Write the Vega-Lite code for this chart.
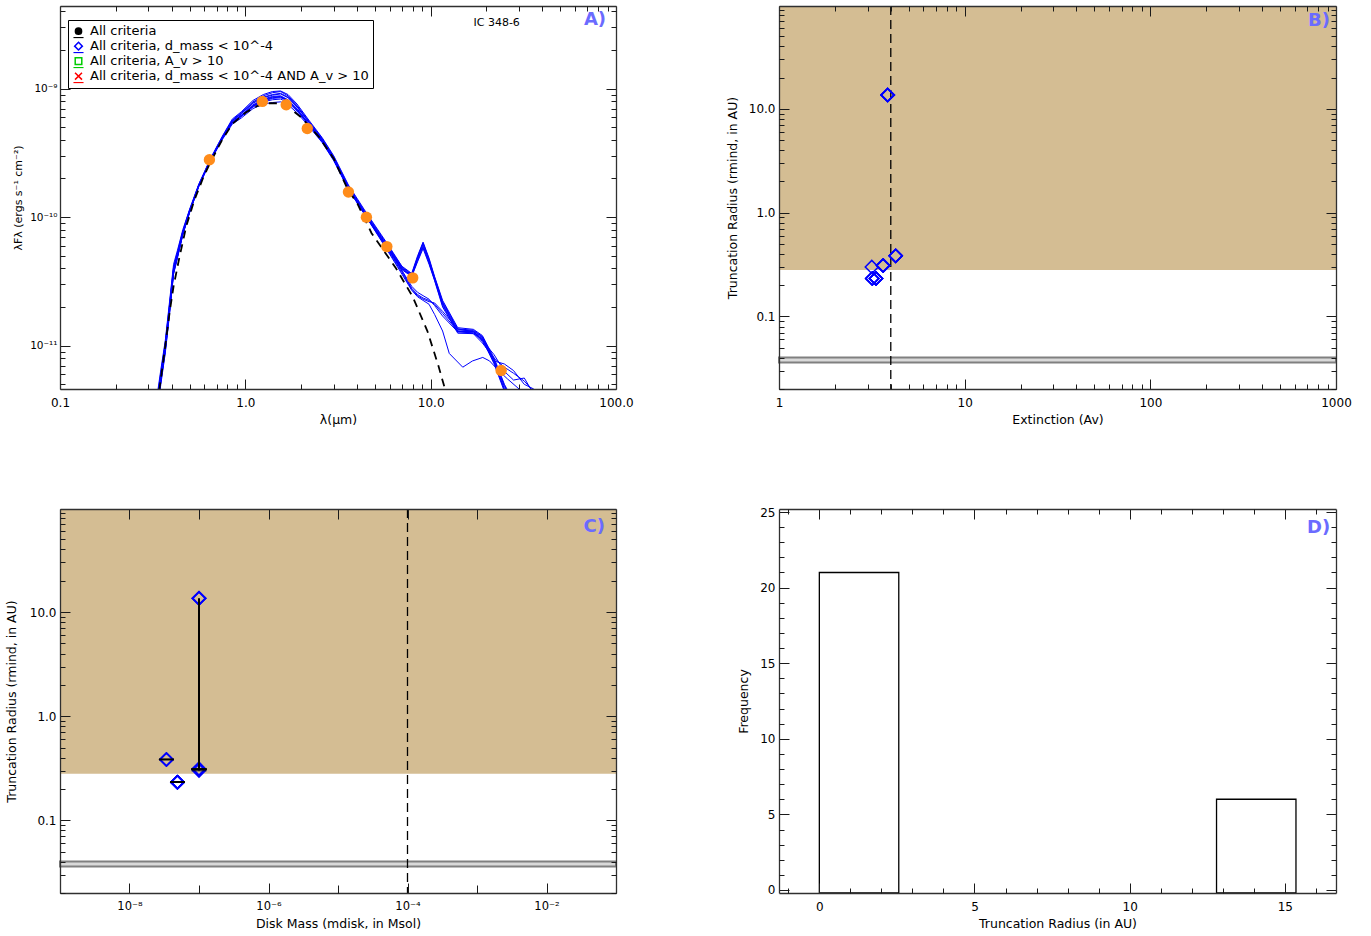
{
"$schema": "https://vega.github.io/schema/vega-lite/v6.json",
"background": "#ffffff",
"padding": {"left": 5, "top": 5, "right": 5, "bottom": 5},
"bounds": "flush",
"columns": 2,
"spacing": {"row": 120, "column": 163},
"config": {
  "view": {"stroke": null},
  "font": "DejaVu Sans",
  "axis": {"labelFont": "DejaVu Sans", "labelFontSize": 12, "labelColor": "#000000", "titleFont": "DejaVu Sans", "titleFontSize": 12.5, "titleFontWeight": "normal", "titleColor": "#000000", "grid": false, "domain": false, "tickColor": "#1a1a1a", "tickWidth": 1, "domainColor": "#303030", "domainWidth": 1.3, "labelFlush": false, "labelOverlap": false},
  "legend": {"labelFont": "DejaVu Sans", "labelFontSize": 13, "labelColor": "#000000", "fillColor": "#ffffff", "strokeColor": "#000000", "padding": 4, "rowPadding": 0, "clipHeight": 14.3, "symbolSize": 60, "symbolStrokeWidth": 1.5, "labelOffset": 5, "labelLimit": 500, "cornerRadius": 0, "symbolOpacity": 1}
},
"datasets": {
  "sed": [
{"m":"a1","w":0.33,"f":3.0e-12},{"m":"a1","w":0.35,"f":5.5e-12},{"m":"a1","w":0.37,"f":9.5e-12},{"m":"a1","w":0.39,"f":1.9e-11},{"m":"a1","w":0.41,"f":3.8e-11},{"m":"a1","w":0.43,"f":5.0e-11},{"m":"a1","w":0.46,"f":7.5e-11},{"m":"a1","w":0.50,"f":1.1e-10},{"m":"a1","w":0.56,"f":1.75e-10},{"m":"a1","w":0.65,"f":2.8e-10},{"m":"a1","w":0.75,"f":4.1e-10},{"m":"a1","w":0.85,"f":5.5e-10},{"m":"a1","w":0.95,"f":6.2e-10},{"m":"a1","w":1.1,"f":7.4e-10},{"m":"a1","w":1.25,"f":8.2e-10},{"m":"a1","w":1.4,"f":8.6e-10},{"m":"a1","w":1.55,"f":8.7e-10},{"m":"a1","w":1.7,"f":8.1e-10},{"m":"a1","w":1.9,"f":6.9e-10},{"m":"a1","w":2.2,"f":5.3e-10},{"m":"a1","w":2.6,"f":3.9e-10},{"m":"a1","w":3.0,"f":2.8e-10},{"m":"a1","w":3.6,"f":1.68e-10},{"m":"a1","w":4.5,"f":1.02e-10},{"m":"a1","w":5.8,"f":6.0e-11},{"m":"a1","w":7.0,"f":4.0e-11},{"m":"a1","w":7.9,"f":3.5e-11},{"m":"a1","w":8.5,"f":4.7e-11},{"m":"a1","w":9.1,"f":6.0e-11},{"m":"a1","w":9.8,"f":4.5e-11},{"m":"a1","w":10.5,"f":3.3e-11},{"m":"a1","w":11.6,"f":2.1e-11},{"m":"a1","w":14,"f":1.3e-11},{"m":"a1","w":17,"f":1.28e-11},{"m":"a1","w":19,"f":1.15e-11},{"m":"a1","w":22,"f":7.5e-12},{"m":"a1","w":25,"f":4.6e-12},{"m":"a1","w":28,"f":3.4e-12},
{"m":"a2","w":0.33,"f":3.4e-12},{"m":"a2","w":0.35,"f":6.2e-12},{"m":"a2","w":0.37,"f":1.06e-11},{"m":"a2","w":0.39,"f":2.1e-11},{"m":"a2","w":0.41,"f":4.1e-11},{"m":"a2","w":0.43,"f":5.3e-11},{"m":"a2","w":0.46,"f":7.8e-11},{"m":"a2","w":0.50,"f":1.13e-10},{"m":"a2","w":0.56,"f":1.78e-10},{"m":"a2","w":0.65,"f":2.85e-10},{"m":"a2","w":0.75,"f":4.2e-10},{"m":"a2","w":0.85,"f":5.7e-10},{"m":"a2","w":0.95,"f":6.5e-10},{"m":"a2","w":1.1,"f":7.9e-10},{"m":"a2","w":1.25,"f":8.8e-10},{"m":"a2","w":1.4,"f":9.3e-10},{"m":"a2","w":1.55,"f":9.5e-10},{"m":"a2","w":1.7,"f":8.8e-10},{"m":"a2","w":1.9,"f":7.4e-10},{"m":"a2","w":2.2,"f":5.6e-10},{"m":"a2","w":2.6,"f":4.1e-10},{"m":"a2","w":3.0,"f":2.95e-10},{"m":"a2","w":3.6,"f":1.75e-10},{"m":"a2","w":4.5,"f":1.06e-10},{"m":"a2","w":5.8,"f":6.2e-11},{"m":"a2","w":7.0,"f":4.1e-11},{"m":"a2","w":7.9,"f":3.6e-11},{"m":"a2","w":8.5,"f":4.9e-11},{"m":"a2","w":9.1,"f":6.3e-11},{"m":"a2","w":9.8,"f":4.7e-11},{"m":"a2","w":10.5,"f":3.4e-11},{"m":"a2","w":11.6,"f":2.2e-11},{"m":"a2","w":14,"f":1.35e-11},{"m":"a2","w":17,"f":1.32e-11},{"m":"a2","w":19,"f":1.18e-11},{"m":"a2","w":22,"f":7.8e-12},{"m":"a2","w":25,"f":4.9e-12},{"m":"a2","w":28,"f":3.6e-12},
{"m":"a3","w":0.33,"f":2.7e-12},{"m":"a3","w":0.35,"f":5.0e-12},{"m":"a3","w":0.37,"f":8.8e-12},{"m":"a3","w":0.39,"f":1.75e-11},{"m":"a3","w":0.41,"f":3.6e-11},{"m":"a3","w":0.43,"f":4.8e-11},{"m":"a3","w":0.46,"f":7.3e-11},{"m":"a3","w":0.50,"f":1.08e-10},{"m":"a3","w":0.56,"f":1.72e-10},{"m":"a3","w":0.65,"f":2.75e-10},{"m":"a3","w":0.75,"f":4.0e-10},{"m":"a3","w":0.85,"f":5.3e-10},{"m":"a3","w":0.95,"f":5.9e-10},{"m":"a3","w":1.1,"f":7.0e-10},{"m":"a3","w":1.25,"f":7.6e-10},{"m":"a3","w":1.4,"f":7.8e-10},{"m":"a3","w":1.55,"f":7.9e-10},{"m":"a3","w":1.7,"f":7.5e-10},{"m":"a3","w":1.9,"f":6.5e-10},{"m":"a3","w":2.2,"f":5.1e-10},{"m":"a3","w":2.6,"f":3.8e-10},{"m":"a3","w":3.0,"f":2.75e-10},{"m":"a3","w":3.6,"f":1.64e-10},{"m":"a3","w":4.5,"f":1.0e-10},{"m":"a3","w":5.8,"f":5.9e-11},{"m":"a3","w":7.0,"f":3.9e-11},{"m":"a3","w":7.9,"f":3.45e-11},{"m":"a3","w":8.5,"f":4.5e-11},{"m":"a3","w":9.1,"f":5.7e-11},{"m":"a3","w":9.8,"f":4.3e-11},{"m":"a3","w":10.5,"f":3.2e-11},{"m":"a3","w":11.6,"f":2.0e-11},{"m":"a3","w":14,"f":1.25e-11},{"m":"a3","w":17,"f":1.24e-11},{"m":"a3","w":19,"f":1.12e-11},{"m":"a3","w":22,"f":7.2e-12},{"m":"a3","w":25,"f":4.4e-12},{"m":"a3","w":28,"f":3.2e-12},
{"m":"a4","w":0.33,"f":3.2e-12},{"m":"a4","w":0.35,"f":5.9e-12},{"m":"a4","w":0.37,"f":1.0e-11},{"m":"a4","w":0.39,"f":2.0e-11},{"m":"a4","w":0.41,"f":3.95e-11},{"m":"a4","w":0.43,"f":5.15e-11},{"m":"a4","w":0.46,"f":7.7e-11},{"m":"a4","w":0.50,"f":1.12e-10},{"m":"a4","w":0.56,"f":1.77e-10},{"m":"a4","w":0.65,"f":2.82e-10},{"m":"a4","w":0.75,"f":4.15e-10},{"m":"a4","w":0.85,"f":5.6e-10},{"m":"a4","w":0.95,"f":6.35e-10},{"m":"a4","w":1.1,"f":7.7e-10},{"m":"a4","w":1.25,"f":8.5e-10},{"m":"a4","w":1.4,"f":8.9e-10},{"m":"a4","w":1.55,"f":9.1e-10},{"m":"a4","w":1.7,"f":8.5e-10},{"m":"a4","w":1.9,"f":7.2e-10},{"m":"a4","w":2.2,"f":5.5e-10},{"m":"a4","w":2.6,"f":4.0e-10},{"m":"a4","w":3.0,"f":2.9e-10},{"m":"a4","w":3.6,"f":1.72e-10},{"m":"a4","w":4.5,"f":1.04e-10},{"m":"a4","w":5.8,"f":6.1e-11},{"m":"a4","w":7.0,"f":4.05e-11},{"m":"a4","w":7.9,"f":3.55e-11},{"m":"a4","w":8.5,"f":4.8e-11},{"m":"a4","w":9.1,"f":6.2e-11},{"m":"a4","w":9.8,"f":4.6e-11},{"m":"a4","w":10.5,"f":3.35e-11},{"m":"a4","w":11.6,"f":2.15e-11},{"m":"a4","w":14,"f":1.33e-11},{"m":"a4","w":17,"f":1.3e-11},{"m":"a4","w":19,"f":1.17e-11},{"m":"a4","w":22,"f":7.7e-12},{"m":"a4","w":25,"f":4.8e-12},{"m":"a4","w":28,"f":3.5e-12},
{"m":"a5","w":0.33,"f":2.9e-12},{"m":"a5","w":0.35,"f":5.3e-12},{"m":"a5","w":0.37,"f":9.2e-12},{"m":"a5","w":0.39,"f":1.85e-11},{"m":"a5","w":0.41,"f":3.7e-11},{"m":"a5","w":0.43,"f":4.9e-11},{"m":"a5","w":0.46,"f":7.4e-11},{"m":"a5","w":0.50,"f":1.09e-10},{"m":"a5","w":0.56,"f":1.73e-10},{"m":"a5","w":0.65,"f":2.78e-10},{"m":"a5","w":0.75,"f":4.05e-10},{"m":"a5","w":0.85,"f":5.4e-10},{"m":"a5","w":0.95,"f":6.05e-10},{"m":"a5","w":1.1,"f":7.2e-10},{"m":"a5","w":1.25,"f":7.9e-10},{"m":"a5","w":1.4,"f":8.2e-10},{"m":"a5","w":1.55,"f":8.3e-10},{"m":"a5","w":1.7,"f":7.8e-10},{"m":"a5","w":1.9,"f":6.7e-10},{"m":"a5","w":2.2,"f":5.2e-10},{"m":"a5","w":2.6,"f":3.85e-10},{"m":"a5","w":3.0,"f":2.78e-10},{"m":"a5","w":3.6,"f":1.66e-10},{"m":"a5","w":4.5,"f":1.01e-10},{"m":"a5","w":5.8,"f":5.95e-11},{"m":"a5","w":7.0,"f":3.95e-11},{"m":"a5","w":7.9,"f":3.48e-11},{"m":"a5","w":8.5,"f":4.6e-11},{"m":"a5","w":9.1,"f":5.85e-11},{"m":"a5","w":9.8,"f":4.4e-11},{"m":"a5","w":10.5,"f":3.25e-11},{"m":"a5","w":11.6,"f":2.05e-11},{"m":"a5","w":14,"f":1.28e-11},{"m":"a5","w":17,"f":1.26e-11},{"m":"a5","w":19,"f":1.13e-11},{"m":"a5","w":22,"f":7.4e-12},{"m":"a5","w":25,"f":4.5e-12},{"m":"a5","w":28,"f":3.3e-12},
{"m":"a6","w":0.33,"f":3.6e-12},{"m":"a6","w":0.35,"f":6.5e-12},{"m":"a6","w":0.37,"f":1.1e-11},{"m":"a6","w":0.39,"f":2.2e-11},{"m":"a6","w":0.41,"f":4.3e-11},{"m":"a6","w":0.43,"f":5.5e-11},{"m":"a6","w":0.46,"f":8.0e-11},{"m":"a6","w":0.50,"f":1.15e-10},{"m":"a6","w":0.56,"f":1.8e-10},{"m":"a6","w":0.65,"f":2.88e-10},{"m":"a6","w":0.75,"f":4.25e-10},{"m":"a6","w":0.85,"f":5.8e-10},{"m":"a6","w":0.95,"f":6.6e-10},{"m":"a6","w":1.1,"f":8.1e-10},{"m":"a6","w":1.25,"f":9.0e-10},{"m":"a6","w":1.4,"f":9.5e-10},{"m":"a6","w":1.55,"f":9.6e-10},{"m":"a6","w":1.7,"f":9.0e-10},{"m":"a6","w":1.9,"f":7.6e-10},{"m":"a6","w":2.2,"f":5.7e-10},{"m":"a6","w":2.6,"f":4.15e-10},{"m":"a6","w":3.0,"f":3.0e-10},{"m":"a6","w":3.6,"f":1.78e-10},{"m":"a6","w":4.5,"f":1.08e-10},{"m":"a6","w":5.8,"f":6.3e-11},{"m":"a6","w":7.0,"f":4.15e-11},{"m":"a6","w":7.9,"f":3.65e-11},{"m":"a6","w":8.5,"f":5.0e-11},{"m":"a6","w":9.1,"f":6.4e-11},{"m":"a6","w":9.8,"f":4.8e-11},{"m":"a6","w":10.5,"f":3.45e-11},{"m":"a6","w":11.6,"f":2.25e-11},{"m":"a6","w":14,"f":1.38e-11},{"m":"a6","w":17,"f":1.34e-11},{"m":"a6","w":19,"f":1.2e-11},{"m":"a6","w":22,"f":8.0e-12},{"m":"a6","w":25,"f":5.0e-12},{"m":"a6","w":28,"f":3.7e-12},
{"m":"b1","w":0.33,"f":3.1e-12},{"m":"b1","w":0.35,"f":5.6e-12},{"m":"b1","w":0.37,"f":9.7e-12},{"m":"b1","w":0.39,"f":1.95e-11},{"m":"b1","w":0.41,"f":3.85e-11},{"m":"b1","w":0.43,"f":5.05e-11},{"m":"b1","w":0.46,"f":7.55e-11},{"m":"b1","w":0.50,"f":1.1e-10},{"m":"b1","w":0.56,"f":1.75e-10},{"m":"b1","w":0.65,"f":2.8e-10},{"m":"b1","w":0.75,"f":4.1e-10},{"m":"b1","w":0.85,"f":5.5e-10},{"m":"b1","w":0.95,"f":6.2e-10},{"m":"b1","w":1.1,"f":7.5e-10},{"m":"b1","w":1.25,"f":8.3e-10},{"m":"b1","w":1.4,"f":8.7e-10},{"m":"b1","w":1.55,"f":8.8e-10},{"m":"b1","w":1.7,"f":8.2e-10},{"m":"b1","w":1.9,"f":7.0e-10},{"m":"b1","w":2.2,"f":5.35e-10},{"m":"b1","w":2.6,"f":3.95e-10},{"m":"b1","w":3.0,"f":2.82e-10},{"m":"b1","w":3.6,"f":1.68e-10},{"m":"b1","w":4.5,"f":1.01e-10},{"m":"b1","w":5.8,"f":5.8e-11},{"m":"b1","w":7.0,"f":3.8e-11},{"m":"b1","w":7.9,"f":2.8e-11},{"m":"b1","w":8.5,"f":2.5e-11},{"m":"b1","w":9.1,"f":2.35e-11},{"m":"b1","w":9.8,"f":2.25e-11},{"m":"b1","w":10.5,"f":2.1e-11},{"m":"b1","w":11.6,"f":1.78e-11},{"m":"b1","w":14,"f":1.3e-11},{"m":"b1","w":17,"f":1.24e-11},{"m":"b1","w":19,"f":1.05e-11},{"m":"b1","w":22,"f":8.0e-12},{"m":"b1","w":25,"f":6.8e-12},{"m":"b1","w":28,"f":6.1e-12},{"m":"b1","w":32,"f":5.3e-12},{"m":"b1","w":36,"f":4.4e-12},
{"m":"b2","w":0.33,"f":2.8e-12},{"m":"b2","w":0.35,"f":5.2e-12},{"m":"b2","w":0.37,"f":9.0e-12},{"m":"b2","w":0.39,"f":1.8e-11},{"m":"b2","w":0.41,"f":3.65e-11},{"m":"b2","w":0.43,"f":4.85e-11},{"m":"b2","w":0.46,"f":7.35e-11},{"m":"b2","w":0.50,"f":1.09e-10},{"m":"b2","w":0.56,"f":1.74e-10},{"m":"b2","w":0.65,"f":2.79e-10},{"m":"b2","w":0.75,"f":4.08e-10},{"m":"b2","w":0.85,"f":5.45e-10},{"m":"b2","w":0.95,"f":6.1e-10},{"m":"b2","w":1.1,"f":7.3e-10},{"m":"b2","w":1.25,"f":8.0e-10},{"m":"b2","w":1.4,"f":8.4e-10},{"m":"b2","w":1.55,"f":8.5e-10},{"m":"b2","w":1.7,"f":8.0e-10},{"m":"b2","w":1.9,"f":6.8e-10},{"m":"b2","w":2.2,"f":5.25e-10},{"m":"b2","w":2.6,"f":3.9e-10},{"m":"b2","w":3.0,"f":2.8e-10},{"m":"b2","w":3.6,"f":1.67e-10},{"m":"b2","w":4.5,"f":1.0e-10},{"m":"b2","w":5.8,"f":5.7e-11},{"m":"b2","w":7.0,"f":3.7e-11},{"m":"b2","w":7.9,"f":2.75e-11},{"m":"b2","w":8.5,"f":2.45e-11},{"m":"b2","w":9.1,"f":2.3e-11},{"m":"b2","w":9.8,"f":2.2e-11},{"m":"b2","w":10.5,"f":2.15e-11},{"m":"b2","w":11.6,"f":1.85e-11},{"m":"b2","w":14,"f":1.35e-11},{"m":"b2","w":17,"f":1.28e-11},{"m":"b2","w":19,"f":1.1e-11},{"m":"b2","w":22,"f":8.5e-12},{"m":"b2","w":25,"f":6.3e-12},{"m":"b2","w":28,"f":5.4e-12},{"m":"b2","w":32,"f":5.6e-12},{"m":"b2","w":36,"f":4.2e-12},
{"m":"b3","w":0.33,"f":3.3e-12},{"m":"b3","w":0.35,"f":6.0e-12},{"m":"b3","w":0.37,"f":1.03e-11},{"m":"b3","w":0.39,"f":2.05e-11},{"m":"b3","w":0.41,"f":4.0e-11},{"m":"b3","w":0.43,"f":5.2e-11},{"m":"b3","w":0.46,"f":7.7e-11},{"m":"b3","w":0.50,"f":1.12e-10},{"m":"b3","w":0.56,"f":1.77e-10},{"m":"b3","w":0.65,"f":2.83e-10},{"m":"b3","w":0.75,"f":4.18e-10},{"m":"b3","w":0.85,"f":5.65e-10},{"m":"b3","w":0.95,"f":6.4e-10},{"m":"b3","w":1.1,"f":7.8e-10},{"m":"b3","w":1.25,"f":8.6e-10},{"m":"b3","w":1.4,"f":9.0e-10},{"m":"b3","w":1.55,"f":9.2e-10},{"m":"b3","w":1.7,"f":8.6e-10},{"m":"b3","w":1.9,"f":7.3e-10},{"m":"b3","w":2.2,"f":5.5e-10},{"m":"b3","w":2.6,"f":4.05e-10},{"m":"b3","w":3.0,"f":2.9e-10},{"m":"b3","w":3.6,"f":1.72e-10},{"m":"b3","w":4.5,"f":1.03e-10},{"m":"b3","w":5.8,"f":5.9e-11},{"m":"b3","w":7.0,"f":3.85e-11},{"m":"b3","w":7.9,"f":2.9e-11},{"m":"b3","w":8.5,"f":2.6e-11},{"m":"b3","w":9.1,"f":2.45e-11},{"m":"b3","w":9.8,"f":2.3e-11},{"m":"b3","w":10.5,"f":2.05e-11},{"m":"b3","w":11.6,"f":1.7e-11},{"m":"b3","w":14,"f":1.28e-11},{"m":"b3","w":17,"f":1.3e-11},{"m":"b3","w":19,"f":1.08e-11},{"m":"b3","w":22,"f":7.6e-12},{"m":"b3","w":25,"f":7.2e-12},{"m":"b3","w":28,"f":6.4e-12},{"m":"b3","w":32,"f":5.0e-12},{"m":"b3","w":36,"f":4.6e-12},
{"m":"b4","w":0.33,"f":3.0e-12},{"m":"b4","w":0.35,"f":5.4e-12},{"m":"b4","w":0.37,"f":9.4e-12},{"m":"b4","w":0.39,"f":1.88e-11},{"m":"b4","w":0.41,"f":3.75e-11},{"m":"b4","w":0.43,"f":4.95e-11},{"m":"b4","w":0.46,"f":7.45e-11},{"m":"b4","w":0.50,"f":1.1e-10},{"m":"b4","w":0.56,"f":1.74e-10},{"m":"b4","w":0.65,"f":2.79e-10},{"m":"b4","w":0.75,"f":4.08e-10},{"m":"b4","w":0.85,"f":5.5e-10},{"m":"b4","w":0.95,"f":6.15e-10},{"m":"b4","w":1.1,"f":7.35e-10},{"m":"b4","w":1.25,"f":8.1e-10},{"m":"b4","w":1.4,"f":8.5e-10},{"m":"b4","w":1.55,"f":8.6e-10},{"m":"b4","w":1.7,"f":8.1e-10},{"m":"b4","w":1.9,"f":6.9e-10},{"m":"b4","w":2.2,"f":5.3e-10},{"m":"b4","w":2.6,"f":3.9e-10},{"m":"b4","w":3.0,"f":2.8e-10},{"m":"b4","w":3.6,"f":1.66e-10},{"m":"b4","w":4.5,"f":1.0e-10},{"m":"b4","w":5.8,"f":5.6e-11},{"m":"b4","w":7.0,"f":3.6e-11},{"m":"b4","w":7.9,"f":2.7e-11},{"m":"b4","w":8.5,"f":2.4e-11},{"m":"b4","w":9.1,"f":2.25e-11},{"m":"b4","w":9.8,"f":2.1e-11},{"m":"b4","w":10.5,"f":1.75e-11},{"m":"b4","w":11.6,"f":1.3e-11},{"m":"b4","w":12.6,"f":8.7e-12},{"m":"b4","w":14.9,"f":6.8e-12},{"m":"b4","w":16.8,"f":7.6e-12},{"m":"b4","w":19.1,"f":8.1e-12},{"m":"b4","w":20.8,"f":7.6e-12},{"m":"b4","w":23,"f":6.5e-12},{"m":"b4","w":26,"f":5.5e-12},{"m":"b4","w":30,"f":4.6e-12},{"m":"b4","w":34,"f":4.0e-12}
  ],
  "phot": [
{"w":0.335,"f":3.5e-12},{"w":0.35,"f":5.5e-12},{"w":0.37,"f":1.0e-11},{"w":0.39,"f":1.8e-11},{"w":0.41,"f":2.9e-11},{"w":0.44,"f":4.8e-11},{"w":0.48,"f":8.5e-11},{"w":0.53,"f":1.35e-10},{"w":0.59,"f":2.0e-10},{"w":0.65,"f":2.7e-10},{"w":0.75,"f":4.0e-10},{"w":0.85,"f":5.3e-10},{"w":1.0,"f":6.5e-10},{"w":1.15,"f":7.3e-10},{"w":1.3,"f":7.7e-10},{"w":1.5,"f":7.7e-10},{"w":1.7,"f":7.2e-10},{"w":2.0,"f":6.0e-10},{"w":2.5,"f":4.2e-10},{"w":3.0,"f":2.85e-10},{"w":3.6,"f":1.6e-10},{"w":4.0,"f":1.3e-10},{"w":4.8,"f":7.5e-11},{"w":6.5,"f":4.0e-11},{"w":8.0,"f":2.4e-11},{"w":9.6,"f":1.3e-11},{"w":11.0,"f":7.0e-12},{"w":12.0,"f":4.5e-12}
  ],
  "obs": [
{"w":0.64,"f":2.8e-10},{"w":1.235,"f":7.96e-10},{"w":1.662,"f":7.5e-10},{"w":2.159,"f":4.9e-10},{"w":3.6,"f":1.57e-10},{"w":4.5,"f":1.0e-10},{"w":5.8,"f":5.9e-11},{"w":8.0,"f":3.37e-11},{"w":24,"f":6.4e-12}
  ],
  "crit": [
{"c":"All criteria"},{"c":"All criteria, d_mass < 10^-4"},{"c":"All criteria, A_v > 10"},{"c":"All criteria, d_mass < 10^-4 AND A_v > 10"}
  ],
  "fits": [
{"rmin":13.6,"av":3.85,"mdisk":1e-7},{"rmin":13.6,"av":3.85,"mdisk":1e-7},{"rmin":13.6,"av":3.85,"mdisk":1e-7},{"rmin":13.6,"av":3.85,"mdisk":1e-7},{"rmin":13.6,"av":3.85,"mdisk":1e-7},{"rmin":13.6,"av":3.85,"mdisk":1e-7},
{"rmin":0.384,"av":4.25,"mdisk":3.4e-8},{"rmin":0.384,"av":4.25,"mdisk":3.4e-8},{"rmin":0.384,"av":4.25,"mdisk":3.4e-8},{"rmin":0.384,"av":4.25,"mdisk":3.4e-8},
{"rmin":0.31,"av":3.64,"mdisk":1e-7},{"rmin":0.31,"av":3.64,"mdisk":1e-7},{"rmin":0.31,"av":3.64,"mdisk":1e-7},{"rmin":0.31,"av":3.64,"mdisk":1e-7},{"rmin":0.31,"av":3.64,"mdisk":1e-7},{"rmin":0.31,"av":3.64,"mdisk":1e-7},
{"rmin":0.30,"av":3.16,"mdisk":1e-7},
{"rmin":0.232,"av":3.18,"mdisk":4.9e-8},{"rmin":0.232,"av":3.18,"mdisk":4.9e-8},{"rmin":0.232,"av":3.18,"mdisk":4.9e-8},{"rmin":0.232,"av":3.18,"mdisk":4.9e-8},{"rmin":0.232,"av":3.18,"mdisk":4.9e-8},
{"rmin":0.232,"av":3.33,"mdisk":4.9e-8},{"rmin":0.232,"av":3.33,"mdisk":4.9e-8},{"rmin":0.232,"av":3.33,"mdisk":4.9e-8},{"rmin":0.232,"av":3.33,"mdisk":4.9e-8},{"rmin":0.232,"av":3.33,"mdisk":4.9e-8}
  ],
  "zone": [{"lo":0.28,"hi":98}],
  "band": [{"lo":0.036,"hi":0.0402}],
  "hist": [{"r0":0,"r1":2.56,"n":21},{"r0":12.8,"r1":15.36,"n":6}]
},
"concat": [
{
  "width": 556, "height": 383,
  "layer": [
    {"data": {"name": "sed"}, "mark": {"type": "line", "stroke": "#0000ff", "strokeWidth": 1, "clip": true},
     "encoding": {
       "x": {"field": "w", "type": "quantitative", "scale": {"type": "log", "domain": [0.1, 100], "nice": false},
             "axis": {"orient": "bottom", "values": [0.1, 1, 10, 100], "format": ".1f", "tickSize": -10, "labelPadding": 18, "domain": true, "title": "λ(μm)", "titlePadding": 4, "minExtent": 20, "maxExtent": 20, "zindex": 1}},
       "y": {"field": "f", "type": "quantitative", "scale": {"type": "log", "domain": [4.6e-12, 4.4e-9], "nice": false},
             "axis": {"orient": "left", "values": [1e-11, 1e-10, 1e-9], "labelExpr": "datum.value > 5e-10 ? '10⁻⁹' : datum.value > 5e-11 ? '10⁻¹⁰' : '10⁻¹¹'", "labelFontSize": 10.5, "tickSize": -10, "labelPadding": 13, "domain": true, "title": "λFλ (ergs s⁻¹ cm⁻²)", "titleFontSize": 11, "titlePadding": 5, "minExtent": 32, "maxExtent": 32, "zindex": 1}},
       "detail": {"field": "m", "type": "nominal"}
     }},
    {"data": {"name": "phot"}, "mark": {"type": "line", "stroke": "#000000", "strokeWidth": 1.8, "strokeDash": [8, 6], "clip": true},
     "encoding": {
       "x": {"field": "w", "type": "quantitative", "scale": {"type": "log", "domain": [0.1, 100], "nice": false},
             "axis": {"orient": "bottom", "values": [0.2,0.3,0.4,0.5,0.6,0.7,0.8,0.9,2,3,4,5,6,7,8,9,20,30,40,50,60,70,80,90], "labels": false, "tickSize": -5, "title": null, "zindex": 1}},
       "y": {"field": "f", "type": "quantitative", "scale": {"type": "log", "domain": [4.6e-12, 4.4e-9], "nice": false},
             "axis": {"orient": "left", "values": [5e-12,6e-12,7e-12,8e-12,9e-12,2e-11,3e-11,4e-11,5e-11,6e-11,7e-11,8e-11,9e-11,2e-10,3e-10,4e-10,5e-10,6e-10,7e-10,8e-10,9e-10,2e-9,3e-9,4e-9], "labels": false, "tickSize": -5, "title": null, "zindex": 1}}
     }},
    {"data": {"name": "obs"}, "mark": {"type": "circle", "fill": "#ff8c1a", "opacity": 1, "size": 130},
     "encoding": {
       "x": {"field": "w", "type": "quantitative", "scale": {"type": "log", "domain": [0.1, 100], "nice": false},
             "axis": {"orient": "top", "values": [0.1, 1, 10, 100], "labels": false, "tickSize": -10, "domain": true, "title": null, "zindex": 1}},
       "y": {"field": "f", "type": "quantitative", "scale": {"type": "log", "domain": [4.6e-12, 4.4e-9], "nice": false},
             "axis": {"orient": "right", "values": [1e-11, 1e-10, 1e-9], "labels": false, "tickSize": -10, "domain": true, "title": null, "zindex": 1}}
     }},
    {"data": {"values": [{"label": "IC 348-6"}]}, "mark": {"type": "text", "fontSize": 11, "font": "DejaVu Sans", "color": "#000000"},
     "encoding": {
       "x": {"datum": 22.7, "type": "quantitative", "scale": {"type": "log", "domain": [0.1, 100], "nice": false},
             "axis": {"orient": "top", "values": [0.2,0.3,0.4,0.5,0.6,0.7,0.8,0.9,2,3,4,5,6,7,8,9,20,30,40,50,60,70,80,90], "labels": false, "tickSize": -5, "title": null, "zindex": 1}},
       "y": {"datum": 3.27e-9, "type": "quantitative", "scale": {"type": "log", "domain": [4.6e-12, 4.4e-9], "nice": false},
             "axis": {"orient": "right", "values": [5e-12,6e-12,7e-12,8e-12,9e-12,2e-11,3e-11,4e-11,5e-11,6e-11,7e-11,8e-11,9e-11,2e-10,3e-10,4e-10,5e-10,6e-10,7e-10,8e-10,9e-10,2e-9,3e-9,4e-9], "labels": false, "tickSize": -5, "title": null, "zindex": 1}},
       "text": {"field": "label"}
     }},
    {"data": {"values": [{"label": "A)"}]}, "mark": {"type": "text", "fontSize": 18, "fontWeight": "bold", "font": "DejaVu Sans", "color": "#6b6bff"},
     "encoding": {
       "x": {"datum": 77, "type": "quantitative", "scale": {"type": "log", "domain": [0.1, 100], "nice": false}, "axis": null},
       "y": {"datum": 3.4e-9, "type": "quantitative", "scale": {"type": "log", "domain": [4.6e-12, 4.4e-9], "nice": false}, "axis": null},
       "text": {"field": "label"}
     }},
    {"data": {"name": "crit"}, "mark": {"type": "point", "opacity": 0, "size": 60},
     "encoding": {
       "shape": {"field": "c", "type": "nominal",
         "scale": {"domain": ["All criteria", "All criteria, d_mass < 10^-4", "All criteria, A_v > 10", "All criteria, d_mass < 10^-4 AND A_v > 10"],
                   "range": ["M-0.8,0A0.8,0.8 0 1,1 0.8,0A0.8,0.8 0 1,1 -0.8,0Z M-1.3,1.7L1.3,1.7", "M0,-1L1,0L0,1L-1,0Z M-1.3,1.7L1.3,1.7", "M-0.85,-0.85L0.85,-0.85L0.85,0.85L-0.85,0.85Z M-1.3,1.7L1.3,1.7", "M-0.9,-0.9L0.9,0.9M-0.9,0.9L0.9,-0.9M-1.3,1.7L1.3,1.7"]},
         "legend": {"title": null, "orient": "none", "legendX": 8, "legendY": 14}},
       "stroke": {"field": "c", "type": "nominal",
         "scale": {"domain": ["All criteria", "All criteria, d_mass < 10^-4", "All criteria, A_v > 10", "All criteria, d_mass < 10^-4 AND A_v > 10"],
                   "range": ["#000000", "#0000ff", "#00cc00", "#ff0000"]},
         "legend": {"title": null, "orient": "none", "legendX": 8, "legendY": 14}},
       "fill": {"field": "c", "type": "nominal",
         "scale": {"domain": ["All criteria", "All criteria, d_mass < 10^-4", "All criteria, A_v > 10", "All criteria, d_mass < 10^-4 AND A_v > 10"],
                   "range": ["#000000", "rgba(0,0,0,0)", "rgba(0,0,0,0)", "rgba(0,0,0,0)"]},
         "legend": {"title": null, "orient": "none", "legendX": 8, "legendY": 14}}
     }}
  ],
  "resolve": {"axis": {"x": "independent", "y": "independent"}}
},
{
  "width": 557, "height": 383,
  "layer": [
    {"data": {"name": "zone"}, "mark": {"type": "rect", "fill": "#d4bd93"},
     "encoding": {
       "x": {"datum": 1, "type": "quantitative", "scale": {"type": "log", "domain": [1, 1000], "nice": false},
             "axis": {"orient": "bottom", "values": [1, 10, 100, 1000], "format": "d", "tickSize": -10, "labelPadding": 18, "domain": true, "title": "Extinction (Av)", "titlePadding": 4, "minExtent": 20, "maxExtent": 20, "zindex": 1}},
       "x2": {"datum": 1000},
       "y": {"field": "lo", "type": "quantitative", "scale": {"type": "log", "domain": [0.02, 98], "nice": false},
             "axis": {"orient": "left", "values": [0.1, 1, 10], "format": ".1f", "tickSize": -10, "labelPadding": 14, "domain": true, "title": "Truncation Radius (rmind, in AU)", "titlePadding": 5, "minExtent": 35, "maxExtent": 35, "zindex": 1}},
       "y2": {"field": "hi"}
     }},
    {"data": {"name": "band"}, "mark": {"type": "rect", "fill": "#d9d9d9", "stroke": "#808080", "strokeWidth": 2},
     "encoding": {
       "x": {"datum": 1, "type": "quantitative", "scale": {"type": "log", "domain": [1, 1000], "nice": false},
             "axis": {"orient": "bottom", "values": [2,3,4,5,6,7,8,9,20,30,40,50,60,70,80,90,200,300,400,500,600,700,800,900], "labels": false, "tickSize": -5, "title": null, "zindex": 1}},
       "x2": {"datum": 1000},
       "y": {"field": "lo", "type": "quantitative", "scale": {"type": "log", "domain": [0.02, 98], "nice": false},
             "axis": {"orient": "left", "values": [0.02,0.03,0.04,0.05,0.06,0.07,0.08,0.09,0.2,0.3,0.4,0.5,0.6,0.7,0.8,0.9,2,3,4,5,6,7,8,9,20,30,40,50,60,70,80,90], "labels": false, "tickSize": -5, "title": null, "zindex": 1}},
       "y2": {"field": "hi"}
     }},
    {"data": {"values": [{}]}, "mark": {"type": "rule", "stroke": "#000000", "strokeWidth": 1.3, "strokeDash": [9, 5]},
     "encoding": {
       "x": {"datum": 4.0, "type": "quantitative", "scale": {"type": "log", "domain": [1, 1000], "nice": false},
             "axis": {"orient": "top", "values": [1, 10, 100, 1000], "labels": false, "tickSize": -10, "domain": true, "title": null, "zindex": 1}}
     }},
    {"data": {"name": "fits"}, "mark": {"type": "point", "shape": "diamond", "filled": false, "stroke": "#0000ff", "strokeWidth": 1.5, "size": 170, "opacity": 1},
     "encoding": {
       "x": {"field": "av", "type": "quantitative", "scale": {"type": "log", "domain": [1, 1000], "nice": false},
             "axis": {"orient": "top", "values": [2,3,4,5,6,7,8,9,20,30,40,50,60,70,80,90,200,300,400,500,600,700,800,900], "labels": false, "tickSize": -5, "title": null, "zindex": 1}},
       "y": {"field": "rmin", "type": "quantitative", "scale": {"type": "log", "domain": [0.02, 98], "nice": false},
             "axis": {"orient": "right", "values": [0.1, 1, 10], "labels": false, "tickSize": -10, "domain": true, "title": null, "zindex": 1}}
     }},
    {"data": {"values": [{"label": "B)"}]}, "mark": {"type": "text", "fontSize": 18, "fontWeight": "bold", "font": "DejaVu Sans", "color": "#6b6bff"},
     "encoding": {
       "x": {"datum": 809, "type": "quantitative", "scale": {"type": "log", "domain": [1, 1000], "nice": false}, "axis": null},
       "y": {"datum": 71, "type": "quantitative", "scale": {"type": "log", "domain": [0.02, 98], "nice": false},
             "axis": {"orient": "right", "values": [0.02,0.03,0.04,0.05,0.06,0.07,0.08,0.09,0.2,0.3,0.4,0.5,0.6,0.7,0.8,0.9,2,3,4,5,6,7,8,9,20,30,40,50,60,70,80,90], "labels": false, "tickSize": -5, "title": null, "zindex": 1}},
       "text": {"field": "label"}
     }}
  ],
  "resolve": {"axis": {"x": "independent", "y": "independent"}}
},
{
  "width": 556, "height": 384,
  "layer": [
    {"data": {"name": "zone"}, "mark": {"type": "rect", "fill": "#d4bd93"},
     "encoding": {
       "x": {"datum": 1e-9, "type": "quantitative", "scale": {"type": "log", "domain": [1e-9, 0.1], "nice": false},
             "axis": {"orient": "bottom", "values": [1e-8, 1e-6, 1e-4, 1e-2], "labelExpr": "datum.value < 5e-8 ? '10⁻⁸' : datum.value < 5e-6 ? '10⁻⁶' : datum.value < 5e-4 ? '10⁻⁴' : '10⁻²'", "labelFontSize": 11.5, "tickSize": -10, "labelPadding": 17, "domain": true, "title": "Disk Mass (mdisk, in Msol)", "titlePadding": 4, "minExtent": 20, "maxExtent": 20, "zindex": 1}},
       "x2": {"datum": 0.1},
       "y": {"field": "lo", "type": "quantitative", "scale": {"type": "log", "domain": [0.02, 98], "nice": false},
             "axis": {"orient": "left", "values": [0.1, 1, 10], "format": ".1f", "tickSize": -10, "labelPadding": 14, "domain": true, "title": "Truncation Radius (rmind, in AU)", "titlePadding": 5, "minExtent": 37, "maxExtent": 37, "zindex": 1}},
       "y2": {"field": "hi"}
     }},
    {"data": {"name": "band"}, "mark": {"type": "rect", "fill": "#d9d9d9", "stroke": "#808080", "strokeWidth": 2},
     "encoding": {
       "x": {"datum": 1e-9, "type": "quantitative", "scale": {"type": "log", "domain": [1e-9, 0.1], "nice": false},
             "axis": {"orient": "top", "values": [1e-9, 1e-8, 1e-7, 1e-6, 1e-5, 1e-4, 1e-3, 1e-2, 1e-1], "labels": false, "tickSize": -10, "domain": true, "title": null, "zindex": 1}},
       "x2": {"datum": 0.1},
       "y": {"field": "lo", "type": "quantitative", "scale": {"type": "log", "domain": [0.02, 98], "nice": false},
             "axis": {"orient": "left", "values": [0.02,0.03,0.04,0.05,0.06,0.07,0.08,0.09,0.2,0.3,0.4,0.5,0.6,0.7,0.8,0.9,2,3,4,5,6,7,8,9,20,30,40,50,60,70,80,90], "labels": false, "tickSize": -5, "title": null, "zindex": 1}},
       "y2": {"field": "hi"}
     }},
    {"data": {"values": [{}]}, "mark": {"type": "rule", "stroke": "#000000", "strokeWidth": 1.3, "strokeDash": [9, 5]},
     "encoding": {
       "x": {"datum": 1e-4, "type": "quantitative", "scale": {"type": "log", "domain": [1e-9, 0.1], "nice": false},
             "axis": {"orient": "bottom", "values": [1e-9, 1e-7, 1e-5, 1e-3, 1e-1], "labels": false, "tickSize": -8, "title": null, "zindex": 1}}
     }},
    {"data": {"name": "fits"}, "mark": {"type": "point", "shape": "diamond", "filled": false, "stroke": "#0000ff", "strokeWidth": 1.5, "size": 170, "opacity": 1},
     "encoding": {
       "x": {"field": "mdisk", "type": "quantitative", "scale": {"type": "log", "domain": [1e-9, 0.1], "nice": false}, "axis": null},
       "y": {"field": "rmin", "type": "quantitative", "scale": {"type": "log", "domain": [0.02, 98], "nice": false},
             "axis": {"orient": "right", "values": [0.1, 1, 10], "labels": false, "tickSize": -10, "domain": true, "title": null, "zindex": 1}}
     }},
    {"data": {"name": "fits"},
     "transform": [{"aggregate": [{"op": "min", "field": "rmin", "as": "lo"}, {"op": "max", "field": "rmin", "as": "hi"}], "groupby": ["mdisk"]}],
     "mark": {"type": "rule", "stroke": "#000000", "strokeWidth": 2},
     "encoding": {
       "x": {"field": "mdisk", "type": "quantitative", "scale": {"type": "log", "domain": [1e-9, 0.1], "nice": false}, "axis": null},
       "y": {"field": "lo", "type": "quantitative", "scale": {"type": "log", "domain": [0.02, 98], "nice": false},
             "axis": {"orient": "right", "values": [0.02,0.03,0.04,0.05,0.06,0.07,0.08,0.09,0.2,0.3,0.4,0.5,0.6,0.7,0.8,0.9,2,3,4,5,6,7,8,9,20,30,40,50,60,70,80,90], "labels": false, "tickSize": -5, "title": null, "zindex": 1}},
       "y2": {"field": "hi"}
     }},
    {"data": {"name": "fits"}, "transform": [{"filter": "datum.rmin < 1"}],
     "mark": {"type": "tick", "orient": "horizontal", "color": "#000000", "thickness": 1.5, "size": 15},
     "encoding": {
       "x": {"field": "mdisk", "type": "quantitative", "scale": {"type": "log", "domain": [1e-9, 0.1], "nice": false}, "axis": null},
       "y": {"field": "rmin", "type": "quantitative", "scale": {"type": "log", "domain": [0.02, 98], "nice": false}, "axis": null}
     }},
    {"data": {"values": [{"label": "C)"}]}, "mark": {"type": "text", "fontSize": 18, "fontWeight": "bold", "font": "DejaVu Sans", "color": "#6b6bff"},
     "encoding": {
       "x": {"datum": 0.0486, "type": "quantitative", "scale": {"type": "log", "domain": [1e-9, 0.1], "nice": false}, "axis": null},
       "y": {"datum": 66, "type": "quantitative", "scale": {"type": "log", "domain": [0.02, 98], "nice": false}, "axis": null},
       "text": {"field": "label"}
     }}
  ],
  "resolve": {"axis": {"x": "independent", "y": "independent"}}
},
{
  "width": 557, "height": 384,
  "layer": [
    {"data": {"name": "hist"}, "mark": {"type": "bar", "fill": "#ffffff", "stroke": "#000000", "strokeWidth": 1.3},
     "encoding": {
       "x": {"field": "r0", "type": "quantitative", "scale": {"domain": [-1.3, 16.65], "nice": false, "zero": false},
             "axis": {"orient": "bottom", "values": [0, 5, 10, 15], "tickSize": -10, "labelPadding": 18, "domain": true, "title": "Truncation Radius (in AU)", "titlePadding": 4, "minExtent": 20, "maxExtent": 20, "zindex": 1}},
       "x2": {"field": "r1"},
       "y": {"field": "n", "type": "quantitative", "scale": {"domain": [-0.2, 25.2], "nice": false, "zero": false},
             "axis": {"orient": "left", "values": [0, 5, 10, 15, 20, 25], "tickSize": -10, "labelPadding": 14, "domain": true, "title": "Frequency", "titlePadding": 5, "minExtent": 24, "maxExtent": 24, "zindex": 1}},
       "y2": {"datum": -0.2}
     }},
    {"data": {"name": "hist"}, "mark": {"type": "point", "opacity": 0},
     "encoding": {
       "x": {"field": "r0", "type": "quantitative", "scale": {"domain": [-1.3, 16.65], "nice": false, "zero": false},
             "axis": {"orient": "bottom", "values": [-1,1,2,3,4,6,7,8,9,11,12,13,14,16], "labels": false, "tickSize": -5, "title": null, "zindex": 1}},
       "y": {"field": "n", "type": "quantitative", "scale": {"domain": [-0.2, 25.2], "nice": false, "zero": false},
             "axis": {"orient": "left", "values": [1,2,3,4,6,7,8,9,11,12,13,14,16,17,18,19,21,22,23,24], "labels": false, "tickSize": -5, "title": null, "zindex": 1}}
     }},
    {"data": {"name": "hist"}, "mark": {"type": "point", "opacity": 0},
     "encoding": {
       "x": {"field": "r0", "type": "quantitative", "scale": {"domain": [-1.3, 16.65], "nice": false, "zero": false},
             "axis": {"orient": "top", "values": [0, 5, 10, 15], "labels": false, "tickSize": -10, "domain": true, "title": null, "zindex": 1}},
       "y": {"field": "n", "type": "quantitative", "scale": {"domain": [-0.2, 25.2], "nice": false, "zero": false},
             "axis": {"orient": "right", "values": [0, 5, 10, 15, 20, 25], "labels": false, "tickSize": -10, "domain": true, "title": null, "zindex": 1}}
     }},
    {"data": {"values": [{"label": "D)"}]}, "mark": {"type": "text", "fontSize": 18, "fontWeight": "bold", "font": "DejaVu Sans", "color": "#6b6bff"},
     "encoding": {
       "x": {"datum": 16.09, "type": "quantitative", "scale": {"domain": [-1.3, 16.65], "nice": false, "zero": false},
             "axis": {"orient": "top", "values": [-1,1,2,3,4,6,7,8,9,11,12,13,14,16], "labels": false, "tickSize": -5, "title": null, "zindex": 1}},
       "y": {"datum": 23.97, "type": "quantitative", "scale": {"domain": [-0.2, 25.2], "nice": false, "zero": false},
             "axis": {"orient": "right", "values": [1,2,3,4,6,7,8,9,11,12,13,14,16,17,18,19,21,22,23,24], "labels": false, "tickSize": -5, "title": null, "zindex": 1}},
       "text": {"field": "label"}
     }}
  ],
  "resolve": {"axis": {"x": "independent", "y": "independent"}}
}
]
}
